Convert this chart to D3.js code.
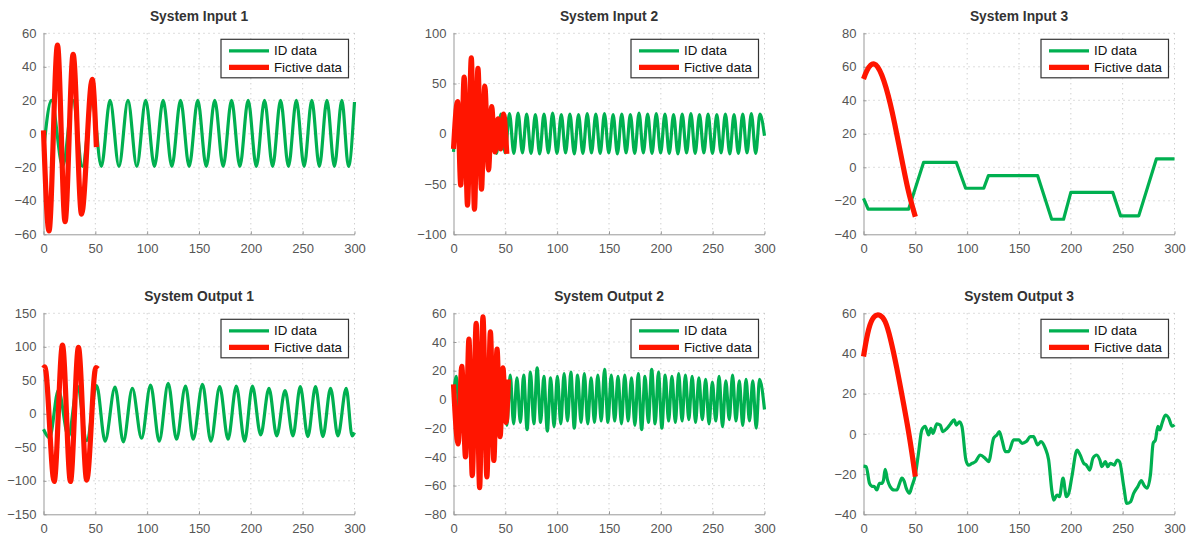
<!DOCTYPE html>
<html>
<head>
<meta charset="utf-8">
<script src="https://cdn.jsdelivr.net/npm/d3@7"></script>
<style>
  body { margin: 0; background: #fff; }
  svg { display: block; font-family: "Liberation Sans", Arial, sans-serif; }
  .tick text { fill: #555; font-size: 13px; }
</style>
</head>
<body>
<div id="chart"></div>
<script>
// panel titles and tick values
var titles = ['System Input 1', 'System Input 2', 'System Input 3',
  'System Output 1', 'System Output 2', 'System Output 3'];
var xTicks = [0, 50, 100, 150, 200, 250, 300];
var yTicks1 = [-60, -40, -20, 0, 20, 40, 60];
var yTicks2 = [-100, -50, 0, 50, 100];
var yTicks3 = [-40, -20, 0, 20, 40, 60, 80];
var yTicks4 = [-150, -100, -50, 0, 50, 100, 150];
var yTicks5 = [-80, -60, -40, -20, 0, 20, 40, 60];
var yTicks6 = [-40, -20, 0, 20, 40, 60];
var legendLabels = ['ID data', 'Fictive data'];

// series: [time, value] at turning points
var input1Id = [[0,-10],[7.7,20],[18.5,-19.5],[28.5,20],[37.5,-19.5],[47,20],[55.8,-19.5],[64.2,20],[72.8,-19.5],[81.5,20],[90,-19.5],[98.6,20],[107,-19.5],[115.4,20],[123.8,-19.5],[132.2,20],[140.5,-19.5],[148.8,20],[157,-19.5],[165.2,20],[173.3,-19.5],[181.4,20],[189.4,-19.5],[197.4,20],[205.3,-19.5],[213.2,20],[221,-19.5],[228.7,20],[236.3,-19.5],[243.9,20],[251.4,-19.5],[258.8,20],[266.1,-19.5],[273.4,20],[280.6,-19.5],[287.8,20],[294.2,-19.5],[300,19]];
var input1Fic = [[0,2],[5.3,-58],[13.5,53],[20.8,-52.5],[28.6,47.5],[36.7,-48],[47,32.5],[51,-8]];

var input2Id = [[0,-18],[4,19],[8.2,-19],[12.3,20],[16.5,-19.5],[20.7,19.5],[24.8,-20],[29,19],[33.2,-19],[37.3,20],[41.5,-19.5],[45.7,19.5],[49.8,-19],[54,20],[58.2,-19.5],[62.3,20.5],[66.5,-19],[70.6,19.5],[74.8,-19.5],[79,19],[83.1,-20],[87.3,19.5],[91.5,-19],[95.6,20.5],[99.8,-19.5],[104,19],[108.1,-19],[112.3,19.5],[116.5,-20],[120.6,19],[124.8,-19.5],[129,20],[133.1,-19],[137.3,19.5],[141.5,-19.5],[145.6,20],[149.8,-19],[154,19],[158.1,-20],[162.3,19.5],[166.5,-19],[170.6,19],[174.8,-19.5],[179,20.5],[183.1,-19],[187.3,19.5],[191.5,-19.5],[195.6,20],[199.8,-19],[204,19.5],[208.1,-19.5],[212.3,19],[216.5,-20],[220.6,19.5],[224.8,-19],[229,20],[233.1,-19.5],[237.3,19],[241.5,-19],[245.6,19.5],[249.8,-19.5],[254,19],[258.1,-19],[262.3,19.5],[266.5,-20],[270.6,19],[274.8,-19.5],[279,19.5],[283.1,-19],[287.3,20],[291.5,-19.5],[295.6,19.5],[300,-2]];
var input2Fic = [[0,-15],[3.9,32],[7,-51],[10.3,56.5],[13.5,-71],[17.2,75.5],[20.2,-75],[23.6,65],[27,-55],[30.2,47.5],[33.8,-36],[36.8,27],[40,-18],[43,15],[45.5,-15],[48.3,19.5],[51.4,-20]];

var input3Id = [[0,-18.5],[4.5,-25],[43.5,-25],[58,3],[89.5,3],[98.5,-12.5],[116,-12.5],[120.5,-5],[168,-5],[181.5,-31],[193,-31],[200,-15],[240.5,-15],[248,-29],[265.5,-29],[282.5,5],[300,5]];
var input3Fic = [[0,52.7],[3.2,58],[7,61.5],[10.3,62],[13.5,60.5],[17.7,55.5],[21.9,47.5],[25.7,38.5],[30,26.5],[34.4,12.5],[38.6,-0.5],[42.5,-12.5],[46.7,-22.5],[50,-29.5]];

var output1Id = [[0,-23],[5.8,-36],[14.4,35.5],[24,-34],[32.7,41.5],[41.7,-40],[51.3,42],[59.4,-41],[69,40],[77,-42],[85.7,38],[94.6,-36.5],[103.3,43],[111.6,-41],[120.3,45.5],[128.3,-38],[137,41.5],[144.4,-38],[153.4,44],[161.4,-41],[170,40.5],[178,-38],[186,41.5],[194,-41],[201.5,41.5],[209.5,-31.5],[217.5,38],[225,-33],[233,34.5],[240.6,-33],[247.7,40.5],[255,-34],[262.4,40.5],[269.5,-34],[276.9,38],[284,-33],[292,38],[297.7,-33],[300,-28]];
var output1Fic = [[0,68],[1.3,70],[10.3,-101],[18.3,102.5],[26,-101],[33.7,99],[41.7,-99],[50.5,69],[52.5,67]];

var output2Id = [[0,2],[2.7,16],[6,-17],[9.2,18],[12.5,-18],[15.7,20],[19,-17],[22.2,19],[25.5,-16],[28.7,18],[32,-17],[35.2,18],[38.5,-16],[41.7,17],[45,-17],[48.2,17],[51.5,-18],[54.7,17],[58,-17],[61.2,15],[64.5,-16],[67.7,17],[71,-21],[74.2,19],[77.5,-17],[80.7,22],[84,-16],[87.2,16],[90.5,-22],[93.7,15],[97,-19],[100.2,16],[103.5,-17],[106.7,18],[110,-15],[113.2,19],[116.5,-20],[119.7,17],[123,-16],[126.2,18],[129.5,-17],[132.7,15],[136,-16],[139.2,17],[142.5,-15],[145.7,21],[149,-16],[152.2,17],[155.5,-15],[158.7,16],[162,-17],[165.2,17],[168.5,-15],[171.7,15],[175,-18],[178.2,18],[181.5,-21],[184.7,16],[188,-16],[191.2,21],[194.5,-17],[197.7,19],[201,-20],[204.2,17],[207.5,-15],[210.7,16],[214,-16],[217.2,18],[220.5,-15],[223.7,17],[227,-14],[230.2,16],[233.5,-16],[236.7,15],[240,-14],[243.2,14],[246.5,-17],[249.7,12],[253,-15],[256.2,16],[259.5,-19],[262.7,13],[266,-14],[269.2,17],[272.5,-15],[275.7,13],[279,-18],[282.2,14],[285.5,-15],[288.7,13],[292,-20],[295.2,14],[300,-7]];
var output2Fic = [[0,10.5],[4.5,-31],[8,23],[11.6,-40],[14.9,42],[18.1,-53],[21.9,53],[25.2,-61.5],[28.4,57.5],[32.2,-54],[35.6,47],[38.9,-42.5],[42,35],[45,-26],[47.7,22],[50.6,-16],[53,14]];

var output3Id = [[0,-16],[2.6,-16.3],[5.8,-24.6],[8,-26],[10.3,-26.2],[12.9,-27.9],[15.4,-24.6],[17.7,-24.6],[19.3,-23],[20.9,-17.6],[23.2,-23],[25.7,-26.2],[29.6,-27.9],[32.2,-27.9],[34.8,-24.6],[37,-22],[39.3,-23.6],[41.2,-27],[44.4,-29.5],[46.7,-26],[50,-20.4],[53,-9.7],[56.3,2],[59.5,3.8],[62.8,-0.5],[65,2.8],[67,0.3],[70.8,5],[74,4.4],[76.6,1.1],[80.5,2.8],[83.7,4.8],[87.5,7],[89.5,4.4],[92.7,6],[95,3.6],[98.8,-13],[101.4,-15.6],[104.6,-14.7],[108,-13.8],[112.6,-10.5],[117.5,-12.2],[120.7,-13.8],[125.5,-2.2],[128.7,-0.5],[131,1.1],[133.6,-3],[136.8,-8.8],[140,-8.8],[144.8,-3],[149.7,-3],[153,-4.7],[157,-3.8],[161,-1.4],[164,-1.4],[168,-5.5],[171.2,-3.8],[175.4,-7.2],[178.6,-13],[181.8,-28.7],[183.5,-32.9],[186.7,-30.4],[189,-31.2],[192.5,-22],[195.7,-31.2],[198,-29.5],[201,-21.3],[206,-8],[209,-10.5],[212.4,-14.6],[215,-15.5],[218.2,-18],[221.4,-12],[225,-10.5],[228,-13],[230,-16.3],[233.3,-13.8],[235.6,-16.3],[238,-14.6],[242,-15.5],[244.6,-13],[247,-13.8],[251,-26],[254,-34.6],[257.5,-33.8],[260.7,-29.5],[264.6,-26.2],[268,-23.2],[270.4,-25.4],[273.6,-27],[276.8,-20.4],[279.4,-4.7],[281.6,-3],[284,3.8],[285.8,2],[288,5.3],[291.3,9.4],[294.5,7.8],[297.7,3.8],[300,4.5]];
var output3Fic = [[0,38.5],[4.8,53.4],[10.3,59.2],[16,59.5],[21,56.7],[25.7,48.4],[32,33.5],[38.6,15.2],[45,-3],[50,-21.3]];

var W = 1192, H = 535;
var colLeft = [43.5, 453.5, 863.5];
var rowTop = [33.3, 313.3];
var pw = 311, ph = 201;
var green = '#00b050', red = '#ff1500';
var greenW = 3.2, redW = 5.2;

var panels = [
  { ticks: yTicks1, id: input1Id, fic: input1Fic, curve: d3.curveMonotoneX },
  { ticks: yTicks2, id: input2Id, fic: input2Fic, curve: d3.curveMonotoneX },
  { ticks: yTicks3, id: input3Id, fic: input3Fic, curve: d3.curveLinear },
  { ticks: yTicks4, id: output1Id, fic: output1Fic, curve: d3.curveMonotoneX },
  { ticks: yTicks5, id: output2Id, fic: output2Fic, curve: d3.curveMonotoneX },
  { ticks: yTicks6, id: output3Id, fic: output3Fic, curve: d3.curveMonotoneX }
];

var svg = d3.select('#chart').append('svg')
  .attr('width', W)
  .attr('height', H);

panels.forEach(function(p, i) {
  var left = colLeft[i % 3], top = rowTop[Math.floor(i / 3)];
  var g = svg.append('g').attr('transform', 'translate(' + left + ',' + top + ')');

  var x = d3.scaleLinear().domain([0, 300]).range([0, pw]);
  var y = d3.scaleLinear().domain(d3.extent(p.ticks)).range([ph, 0]);

  // dotted grid
  g.append('g').selectAll('line.gx')
    .data(xTicks.slice(1))
    .enter().append('line')
    .attr('x1', d => x(d)).attr('x2', d => x(d))
    .attr('y1', 0).attr('y2', ph)
    .attr('stroke', '#bbb').attr('stroke-dasharray', '1,4');
  g.append('g').selectAll('line.gy')
    .data(p.ticks.slice(1))
    .enter().append('line')
    .attr('x1', 0).attr('x2', pw)
    .attr('y1', d => y(d)).attr('y2', d => y(d))
    .attr('stroke', '#bbb').attr('stroke-dasharray', '1,4');

  // axes
  var xAxis = g.append('g')
    .attr('transform', 'translate(0,' + ph + ')')
    .call(d3.axisBottom(x).tickValues(xTicks).tickSizeInner(-3).tickSizeOuter(0).tickPadding(9));
  var yAxis = g.append('g')
    .call(d3.axisLeft(y).tickValues(p.ticks).tickSizeInner(-3).tickSizeOuter(0).tickPadding(7)
      .tickFormat(d => d < 0 ? '\u2212' + Math.abs(d) : d));
  [xAxis, yAxis].forEach(function(a) {
    a.select('.domain').attr('stroke', '#999');
    a.selectAll('.tick line').attr('stroke', '#999');
    a.selectAll('.tick text').attr('font-family', null).attr('font-size', null);
  });

  var line = d3.line()
    .x(d => x(d[0]))
    .y(d => y(d[1]))
    .curve(p.curve);

  g.append('path').datum(p.id)
    .attr('d', line)
    .attr('fill', 'none')
    .attr('stroke', green)
    .attr('stroke-width', greenW)
    .attr('stroke-linejoin', 'round');

  g.append('path').datum(p.fic)
    .attr('d', line.curve(i === 2 || i === 5 ? d3.curveBasis : d3.curveMonotoneX))
    .attr('fill', 'none')
    .attr('stroke', red)
    .attr('stroke-width', redW)
    .attr('stroke-linejoin', 'round');

  // title
  g.append('text')
    .attr('x', pw / 2).attr('y', -12)
    .attr('text-anchor', 'middle')
    .attr('font-size', 13.8).attr('font-weight', 'bold')
    .attr('fill', '#333')
    .text(titles[i]);

  // legend
  var lw = 127.5, lh = 38.5;
  var lg = g.append('g').attr('transform', 'translate(' + (pw - 6 - lw) + ',6)');
  lg.append('rect')
    .attr('width', lw).attr('height', lh)
    .attr('fill', '#fff').attr('stroke', '#333').attr('stroke-width', 1.2);
  legendLabels.forEach(function(lbl, k) {
    var ly = 11.5 + k * 16.5;
    lg.append('line')
      .attr('x1', 8).attr('x2', 48).attr('y1', ly).attr('y2', ly)
      .attr('stroke', k === 0 ? green : red)
      .attr('stroke-width', k === 0 ? greenW : redW);
    lg.append('text')
      .attr('x', 53).attr('y', ly + 4.5)
      .attr('font-size', 13.3).attr('fill', '#111')
      .text(lbl);
  });
});
</script>
</body>
</html>
